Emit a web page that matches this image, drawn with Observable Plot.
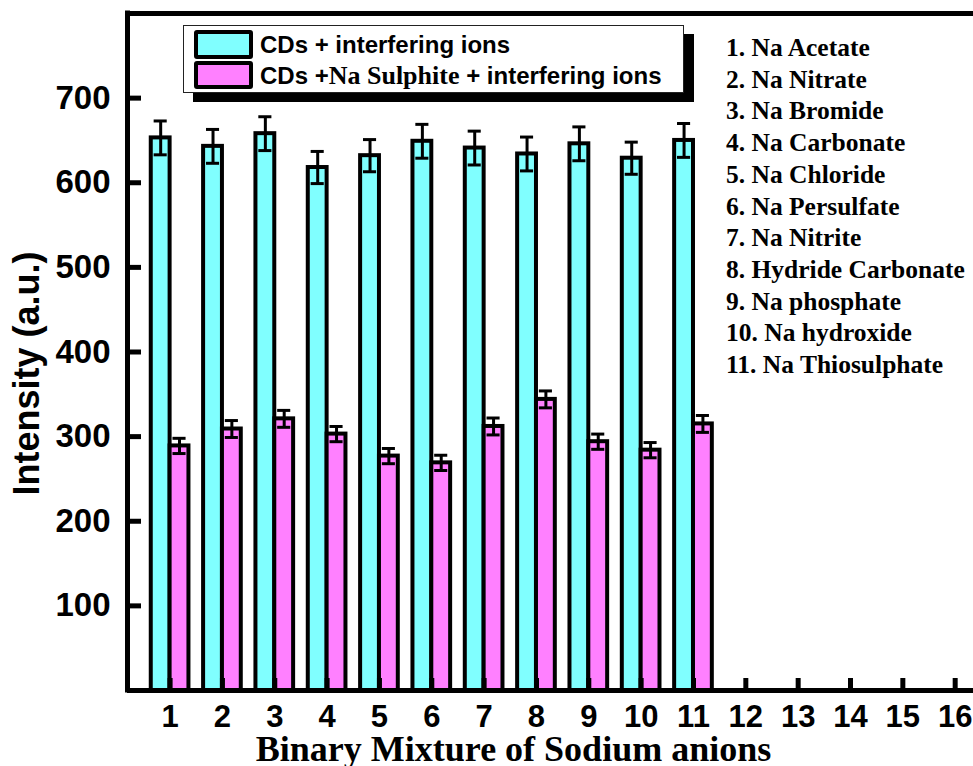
<!DOCTYPE html>
<html>
<head>
<meta charset="utf-8">
<script src="https://cdn.jsdelivr.net/npm/d3@7"></script>
<script src="https://cdn.jsdelivr.net/npm/@observablehq/plot@0.6"></script>
<style>
  body { margin: 0; background: #fff; }
  #wrap { position: relative; width: 973px; height: 766px; overflow: hidden; background: #fff; }
  #wrap svg { position: absolute; left: 0; top: 0; }
  .legend { position: absolute; left: 183px; top: 25px; width: 499px; height: 66px; background: #fff;
            border: 1px solid #222; box-shadow: 10px 9px 0 #000; }
  .sw { position: absolute; left: 10px; width: 59px; box-sizing: border-box; border: 4px solid #000; border-radius: 3px; }
  .lt { position: absolute; left: 76px; height: 30px; line-height: 30px; white-space: nowrap;
        font: bold 24px "Liberation Sans", Arial, sans-serif; color: #000; }
  .serif { font-family: "Liberation Serif", "Times New Roman", serif; font-size: 26px; }
  .list { position: absolute; left: 726px; top: 32px; font: bold 25.5px "Liberation Serif", "Times New Roman", serif;
          line-height: 31.7px; color: #000; white-space: nowrap; }
</style>
</head>
<body>
<div id="wrap"></div>
<script>
// ---- data ----
const positions = [1, 2, 3, 4, 5, 6, 7, 8, 9, 10, 11];
const cdsValues = [653, 643, 658, 618, 632, 649, 641, 634, 646, 629, 650];
const cdsErrors = [20, 20, 20, 19, 19, 20, 20, 20, 20, 19, 20];
const sulphiteValues = [289, 309, 321, 303, 277, 269, 312, 344, 294, 284, 315];
const sulphiteErrors = [9, 10, 10, 9, 9, 9, 10, 10, 9, 9, 10];
const xTicks = [1, 2, 3, 4, 5, 6, 7, 8, 9, 10, 11, 12, 13, 14, 15, 16];
const yTicks = [100, 200, 300, 400, 500, 600, 700];
const xDomain = [0.186, 16.35];
const yDomain = [0, 800];
const seriesNames = ["CDs + interfering ions", "CDs +Na Sulphite + interfering ions"];
const ionNames = ["1. Na Acetate", "2. Na Nitrate", "3. Na Bromide", "4. Na Carbonate", "5. Na Chloride",
  "6. Na Persulfate", "7. Na Nitrite", "8. Hydride Carbonate", "9. Na phosphate", "10. Na hydroxide",
  "11. Na Thiosulphate"];
const xTitle = "Binary Mixture of Sodium anions";
const yTitle = "Intensity (a.u.)";

const cyan = "#80FFFF", magenta = "#FF80FF";
const bw = 0.36, cap = 0.125;
const cds = positions.map((p, i) => ({p, v: cdsValues[i], e: cdsErrors[i]}));
const sul = positions.map((p, i) => ({p, v: sulphiteValues[i], e: sulphiteErrors[i]}));

const errMarks = (data, off) => [
  Plot.ruleX(data, {x: d => d.p + off, y1: d => d.v - d.e, y2: d => d.v + d.e, stroke: "black", strokeWidth: 3}),
  Plot.ruleY(data, {y: d => d.v + d.e, x1: d => d.p + off - cap, x2: d => d.p + off + cap, stroke: "black", strokeWidth: 3}),
  Plot.ruleY(data, {y: d => d.v - d.e, x1: d => d.p + off - cap, x2: d => d.p + off + cap, stroke: "black", strokeWidth: 3})
];

const chart = Plot.plot({
  width: 973, height: 766,
  marginLeft: 127, marginRight: 0, marginTop: 13, marginBottom: 76,
  x: {domain: xDomain},
  y: {domain: yDomain},
  style: {fontFamily: "'Liberation Sans', Arial, sans-serif", background: "transparent", color: "black", overflow: "visible"},
  marks: [
    Plot.rect(cds, {x1: d => d.p - bw, x2: "p", y1: 0, y2: "v", fill: cyan, stroke: "black", strokeWidth: 4}),
    Plot.rect(sul, {x1: "p", x2: d => d.p + bw, y1: 0, y2: "v", fill: magenta, stroke: "black", strokeWidth: 4}),
    ...errMarks(cds, -bw / 2),
    ...errMarks(sul, bw / 2),
    Plot.ruleY([yDomain[0]], {stroke: "black", strokeWidth: 5}),
    Plot.ruleY([yDomain[1]], {stroke: "black", strokeWidth: 5}),
    Plot.ruleX([xDomain[0]], {stroke: "black", strokeWidth: 5, strokeLinecap: "square"}),
    Plot.axisY(yTicks, {tickSize: -14, fill: "none", stroke: "black", strokeWidth: 5, label: null}),
    Plot.axisY(yTicks, {tickSize: 0, tickPadding: 17, fontSize: 33, fontWeight: "bold", fill: "black", label: null}),
    Plot.axisX(xTicks, {tickSize: -12, fill: "none", stroke: "black", strokeWidth: 5, label: null}),
    Plot.axisX(xTicks, {tickSize: 0, tickPadding: 14, fontSize: 31, fontWeight: "bold", fill: "black", label: null}),
    Plot.text([yTitle], {frameAnchor: "left", rotate: -90, dx: -100.5, dy: 21.5, fontSize: 36, fontWeight: "bold",
      textAnchor: "middle", lineAnchor: "middle", fill: "black"}),
    Plot.text([xTitle], {frameAnchor: "bottom", dx: -37, dy: 59, fontSize: 36, fontWeight: "bold",
      fontFamily: "'Liberation Serif', 'Times New Roman', serif", textAnchor: "middle", lineAnchor: "middle", fill: "black"})
  ]
});

const wrap = document.getElementById("wrap");
wrap.appendChild(chart);

// legend
const leg = document.createElement("div");
leg.className = "legend";
leg.innerHTML =
  `<div class="sw" style="top:4px;height:29px;background:${cyan}"></div>` +
  `<div class="lt" style="top:5px">${seriesNames[0]}</div>` +
  `<div class="sw" style="top:35px;height:28px;background:${magenta}"></div>` +
  `<div class="lt" style="top:35px">CDs +<span class="serif">Na Sulphite</span> + interfering ions</div>`;
wrap.appendChild(leg);

// ion list
const list = document.createElement("div");
list.className = "list";
list.innerHTML = ionNames.map(n => `<div>${n}</div>`).join("");
wrap.appendChild(list);
</script>
</body>
</html>
